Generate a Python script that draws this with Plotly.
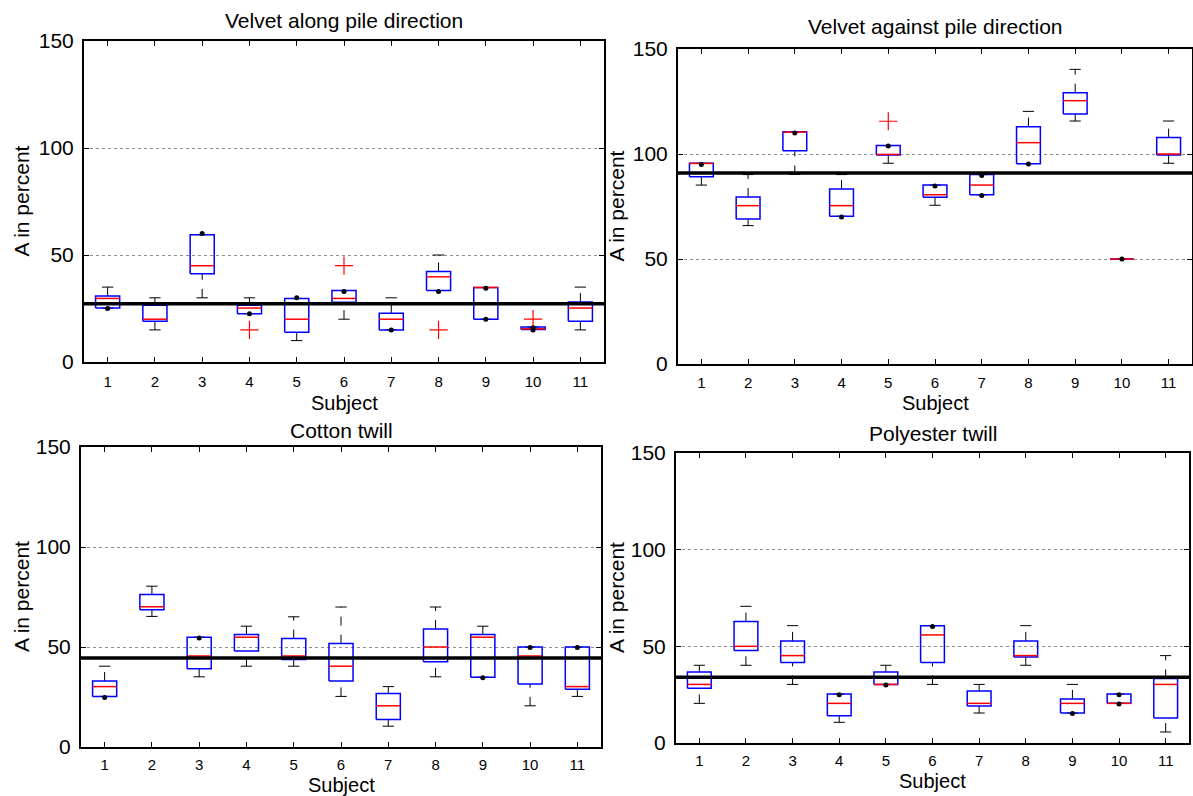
import plotly.graph_objects as go

# ---------------- data ----------------
subjects = list(range(1, 12))
tick_labels = [str(s) for s in subjects]
y_ticks = [0, 50, 100, 150]
titles = ["Velvet along pile direction", "Velvet against pile direction",
          "Cotton twill", "Polyester twill"]
x_title = "Subject"
y_title = "A in percent"

# Velvet along pile direction
along_lo = [25.2, 15, 30, 22.6, 10, 20, 15, 33.4, 20, 15.2, 15]
along_q1 = [25.2, 19, 41.2, 22.6, 13.9, 27.9, 15, 33.4, 20, 15.2, 19]
along_med = [29.7, 20, 45, 25.2, 20, 29.7, 20, 39.8, 34.8, 15.5, 25.2]
along_q3 = [30.8, 26.5, 59.5, 26.5, 29.7, 33.4, 22.8, 42.3, 34.8, 16.3, 28]
along_hi = [35, 30, 59.5, 30, 29.7, 33.4, 30, 50, 34.8, 16.3, 35]
along_out_x = [4, 6, 8, 10]
along_out_y = [15, 45, 15, 20]
along_dot_x = [1, 3, 4, 5, 6, 7, 8, 9, 9, 10, 10]
along_dot_y = [25, 60, 22.5, 30, 33, 15, 33, 34.5, 20, 16, 15]
along_mean = 27.2

# Velvet against pile direction
against_lo = [85.2, 65.9, 90.3, 70.3, 95.6, 75.6, 80.6, 95.4, 115.7, 50, 95.6]
against_q1 = [89.2, 69, 101.6, 70.3, 99.5, 79.4, 80.6, 95.4, 119, 50, 99.5]
against_med = [95.5, 75.4, 110.4, 75.4, 99.8, 80.6, 85.2, 105.4, 125.4, 50, 100]
against_q3 = [95.6, 79.5, 110.6, 83.3, 104, 85.2, 90.2, 113, 129.2, 50, 107.8]
against_hi = [95.6, 90.2, 110.6, 90.2, 104, 85.2, 90.2, 120.3, 140.3, 50, 115.7]
against_out_x = [5]
against_out_y = [115.6]
against_dot_x = [1, 3, 4, 5, 6, 7, 7, 8, 10]
against_dot_y = [95, 110, 70, 103.8, 84.8, 89.8, 80.2, 95.2, 50]
against_mean = 91

# Cotton twill
cotton_lo = [25.3, 65.3, 35.1, 40.4, 40.4, 25.3, 10.4, 35.1, 34.9, 20.6, 25.3]
cotton_q1 = [25.3, 68.6, 39.1, 48, 43.8, 33, 13.8, 42.6, 34.9, 31.5, 28.9]
cotton_med = [30.2, 70.1, 45.5, 54.9, 45.5, 40.4, 20.6, 50, 54.9, 45.5, 30.2]
cotton_q3 = [33, 76.2, 54.9, 56.2, 54.2, 51.7, 26.8, 59, 56.2, 50, 50]
cotton_hi = [40.4, 80.4, 54.9, 60.4, 65.1, 70, 30.2, 70, 60.4, 50, 50]
cotton_out_x = []
cotton_out_y = []
cotton_dot_x = [1, 3, 9, 10, 11]
cotton_dot_y = [24.8, 54.5, 34.6, 49.7, 49.7]
cotton_mean = 44.5

# Polyester twill
poly_lo = [20.5, 40.2, 30.3, 10.7, 30.3, 30.3, 15.5, 40.2, 15.5, 20.5, 5.7]
poly_q1 = [28.3, 47.9, 41.7, 14.1, 30.3, 41.7, 19.1, 44.5, 15.5, 20.5, 12.9]
poly_med = [30.3, 50, 45.2, 20.5, 30.3, 55.9, 20.5, 45.2, 20.5, 20.5, 30.3]
poly_q3 = [36.7, 62.8, 52.8, 25.3, 36.7, 60.7, 26.9, 52.8, 22.8, 25.3, 33.4]
poly_hi = [40.2, 70.7, 60.7, 25.3, 40.2, 60.7, 30.3, 60.7, 30.3, 25.3, 45.2]
poly_out_x = []
poly_out_y = []
poly_dot_x = [4, 5, 6, 9, 10, 10]
poly_dot_y = [25, 30, 60.3, 15.2, 25, 20.2]
poly_mean = 34

# ---------------- layout geometry ----------------
W, H = 1193, 796
FONT = "Liberation Sans, Arial, sans-serif"
BOX_HALF = 0.255
CAP_HALF = 0.12

panels = [
    dict(lo=along_lo, q1=along_q1, med=along_med, q3=along_q3, hi=along_hi,
         ox=along_out_x, oy=along_out_y, dx=along_dot_x, dy=along_dot_y,
         mean=along_mean, px=(84, 604), py=(41, 362), title_y=20, xlab_y=403,
         ylab_x=21, standoff=5),
    dict(lo=against_lo, q1=against_q1, med=against_med, q3=against_q3, hi=against_hi,
         ox=against_out_x, oy=against_out_y, dx=against_dot_x, dy=against_dot_y,
         mean=against_mean, px=(678, 1192), py=(49, 364), title_y=26, xlab_y=403,
         ylab_x=616, standoff=4),
    dict(lo=cotton_lo, q1=cotton_q1, med=cotton_med, q3=cotton_q3, hi=cotton_hi,
         ox=cotton_out_x, oy=cotton_out_y, dx=cotton_dot_x, dy=cotton_dot_y,
         mean=cotton_mean, px=(81, 601), py=(447, 747), title_y=430, xlab_y=785,
         ylab_x=21, standoff=3),
    dict(lo=poly_lo, q1=poly_q1, med=poly_med, q3=poly_q3, hi=poly_hi,
         ox=poly_out_x, oy=poly_out_y, dx=poly_dot_x, dy=poly_dot_y,
         mean=poly_mean, px=(676, 1189), py=(453, 743), title_y=433, xlab_y=781,
         ylab_x=616, standoff=3),
]

fig = go.Figure()
annotations = []
shapes = []

for k, p in enumerate(panels):
    n = "" if k == 0 else str(k + 1)
    xa, ya = "x" + n, "y" + n

    # whiskers (dashed) and caps (solid)
    wx, wy, cx, cy = [], [], [], []
    for i, s in enumerate(subjects):
        wx += [s, s, None, s, s, None]
        wy += [p["q3"][i], p["hi"][i], None, p["lo"][i], p["q1"][i], None]
        cx += [s - CAP_HALF, s + CAP_HALF, None, s - CAP_HALF, s + CAP_HALF, None]
        cy += [p["hi"][i], p["hi"][i], None, p["lo"][i], p["lo"][i], None]
    fig.add_trace(go.Scatter(x=wx, y=wy, mode="lines", xaxis=xa, yaxis=ya,
                             line=dict(color="black", width=1, dash="dash"),
                             hoverinfo="skip", showlegend=False))
    fig.add_trace(go.Scatter(x=cx, y=cy, mode="lines", xaxis=xa, yaxis=ya,
                             line=dict(color="black", width=1),
                             hoverinfo="skip", showlegend=False))
    # boxes
    bx, by = [], []
    for i, s in enumerate(subjects):
        bx += [s - BOX_HALF, s + BOX_HALF, s + BOX_HALF, s - BOX_HALF, s - BOX_HALF, None]
        by += [p["q1"][i], p["q1"][i], p["q3"][i], p["q3"][i], p["q1"][i], None]
    fig.add_trace(go.Scatter(x=bx, y=by, mode="lines", xaxis=xa, yaxis=ya,
                             line=dict(color="#0000ff", width=1.5),
                             hoverinfo="skip", showlegend=False))
    # medians
    mx, my = [], []
    for i, s in enumerate(subjects):
        mx += [s - BOX_HALF, s + BOX_HALF, None]
        my += [p["med"][i], p["med"][i], None]
    fig.add_trace(go.Scatter(x=mx, y=my, mode="lines", xaxis=xa, yaxis=ya,
                             line=dict(color="#ff0000", width=1.5),
                             hoverinfo="skip", showlegend=False))
    # outliers
    if p["ox"]:
        fig.add_trace(go.Scatter(x=p["ox"], y=p["oy"], mode="markers", xaxis=xa, yaxis=ya,
                                 marker=dict(symbol="cross-thin", size=13,
                                             line=dict(color="#ff0000", width=1.2)),
                                 hoverinfo="skip", showlegend=False))
    # black dots
    fig.add_trace(go.Scatter(x=p["dx"], y=p["dy"], mode="markers", xaxis=xa, yaxis=ya,
                             marker=dict(color="black", size=5),
                             hoverinfo="skip", showlegend=False))

    # mean line across the whole axis
    shapes.append(dict(type="line", xref=xa + " domain", yref=ya, x0=0, x1=1,
                       y0=p["mean"], y1=p["mean"], line=dict(color="black", width=3.5),
                       layer="above"))

    x0, x1 = p["px"]
    y0, y1 = p["py"]
    axis_common = dict(showline=True, linecolor="black", linewidth=2, mirror="ticks",
                       ticks="inside", ticklen=5, tickcolor="black", tickwidth=1,
                       zeroline=False, automargin=False)
    fig.update_layout(**{
        ("xaxis" + n): dict(domain=[x0 / W, x1 / W], anchor=ya, range=[0.5, 11.5],
                            tickvals=subjects, ticktext=tick_labels, showgrid=False,
                            tickfont=dict(family=FONT, size=15, color="black"),
                            ticklabelstandoff=p["standoff"], **axis_common),
        ("yaxis" + n): dict(domain=[1 - y1 / H, 1 - y0 / H], anchor=xa, range=[0, 150],
                            tickvals=y_ticks, showgrid=True, gridcolor="#8c8c8c",
                            griddash="dot", gridwidth=1,
                            tickfont=dict(family=FONT, size=21, color="black"),
                            ticklabelstandoff=4, **axis_common),
    })

    # annotations positioned relative to this panel's axis domain
    def dx_(X):
        return (X - x0) / (x1 - x0)

    def dy_(Y):
        return (y1 - Y) / (y1 - y0)

    xc = dx_((x0 + x1) / 2)
    annotations.append(dict(text=titles[k], x=xc, y=dy_(p["title_y"]),
                            xref=xa + " domain", yref=ya + " domain", showarrow=False,
                            xanchor="center", yanchor="middle",
                            font=dict(family=FONT, size=21, color="black")))
    annotations.append(dict(text=x_title, x=xc, y=dy_(p["xlab_y"]),
                            xref=xa + " domain", yref=ya + " domain", showarrow=False,
                            xanchor="center", yanchor="middle",
                            font=dict(family=FONT, size=20, color="black")))
    annotations.append(dict(text=y_title, x=dx_(p["ylab_x"]), y=dy_((y0 + y1) / 2),
                            xref=xa + " domain", yref=ya + " domain", showarrow=False,
                            textangle=-90, xanchor="center", yanchor="middle",
                            font=dict(family=FONT, size=21, color="black")))

fig.update_layout(width=W, height=H, margin=dict(l=0, r=0, t=0, b=0, pad=0,
                                                 autoexpand=False),
                  paper_bgcolor="white", plot_bgcolor="white",
                  annotations=annotations, shapes=shapes, showlegend=False)

fig.write_html("out.html", config={"displayModeBar": False},
               post_script="document.body.style.margin='0';"
                           "document.body.style.overflow='hidden';")
